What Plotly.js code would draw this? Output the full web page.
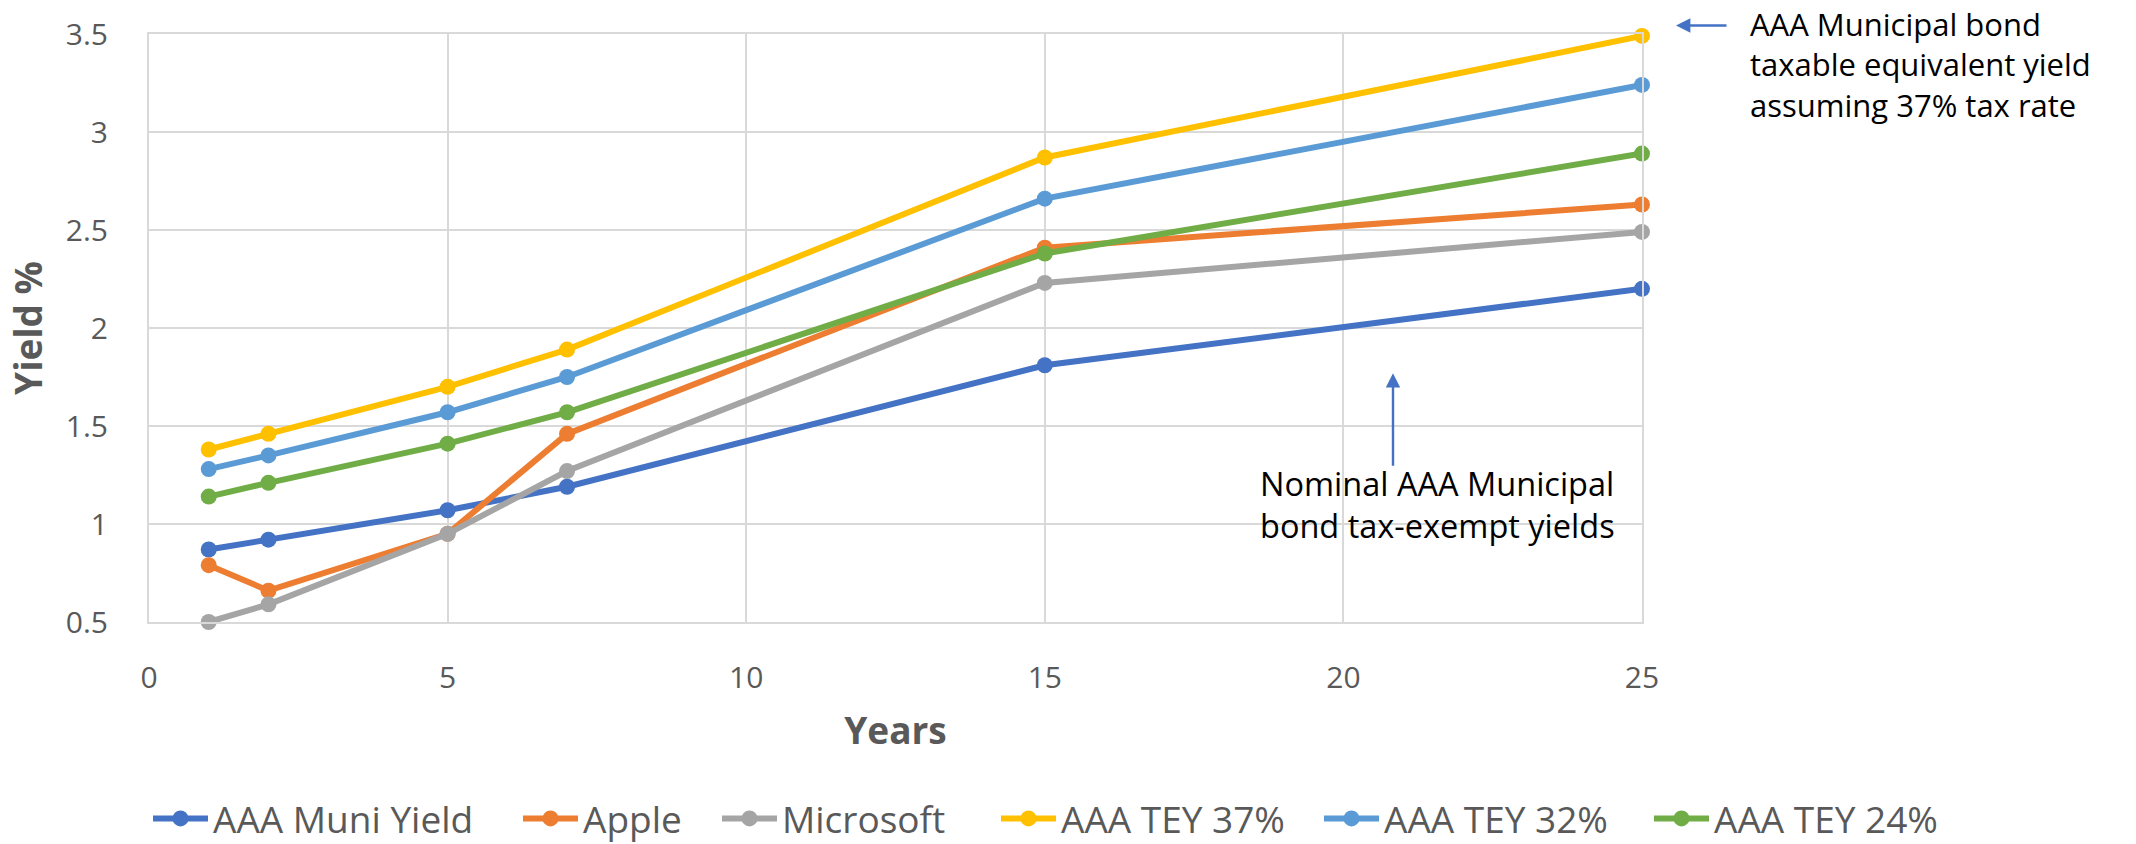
<!DOCTYPE html>
<html>
<head>
<meta charset="utf-8">
<script src="https://cdn.plot.ly/plotly-3.0.1.min.js"></script>
<style>html,body{margin:0;padding:0;background:#fff;}#chart{width:2136px;height:844px;}</style>
</head>
<body>
<div id="chart"></div>
<script>
// Data
const years = [1, 2, 5, 7, 15, 25];
const muniYield = [0.87, 0.92, 1.07, 1.19, 1.81, 2.20];
const apple = [0.79, 0.66, 0.95, 1.46, 2.41, 2.63];
const microsoft = [0.50, 0.59, 0.95, 1.27, 2.23, 2.49];
const tey37 = [1.38, 1.46, 1.70, 1.89, 2.87, 3.49];
const tey32 = [1.28, 1.35, 1.57, 1.75, 2.66, 3.24];
const tey24 = [1.14, 1.21, 1.41, 1.57, 2.38, 2.89];

const seriesNames = ["AAA Muni Yield", "Apple", "Microsoft", "AAA TEY 37%", "AAA TEY 32%", "AAA TEY 24%"];
const seriesValues = [muniYield, apple, microsoft, tey37, tey32, tey24];
const seriesColors = ["#4472C4", "#ED7D31", "#A5A5A5", "#FFC000", "#5B9BD5", "#70AD47"];

const xTickVals = [0, 5, 10, 15, 20, 25];
const xTickText = ["0", "5", "10", "15", "20", "25"];
const yTickVals = [0.5, 1, 1.5, 2, 2.5, 3, 3.5];
const yTickText = ["0.5", "1", "1.5", "2", "2.5", "3", "3.5"];

const xAxisTitle = "Years";
const yAxisTitle = "Yield %";
const noteTop = "AAA Municipal bond<br>taxable equivalent yield<br>assuming 37% tax rate";
const noteBottom = "Nominal AAA Municipal<br>bond tax-exempt yields";

// Layout geometry (pixels)
const W = 2136, H = 844;
const plotL = 149, plotR = 1642, plotT = 33.5, plotB = 622;
const legendStarts = [148, 518, 717, 996, 1319, 1649];
const legendCenterY = 819;

const pxToPaperX = px => (px - plotL) / (plotR - plotL);
const pxToPaperY = py => (plotB - py) / (plotB - plotT);

const traces = seriesNames.map((name, i) => ({
  type: "scatter",
  mode: "lines+markers",
  name: name,
  x: years,
  y: seriesValues[i],
  line: {color: seriesColors[i], width: 6},
  marker: {color: seriesColors[i], size: 16},
  legend: i === 0 ? "legend" : "legend" + (i + 1),
  cliponaxis: false
}));

const legendFont = {family: "Open Sans, sans-serif", size: 37, color: "#595959"};
const noteFont = {family: "Open Sans, sans-serif", size: 32, color: "#000000"};
const arrowStyle = {arrowcolor: "#4472C4", arrowwidth: 2.4, arrowhead: 2, arrowsize: 1.2, standoff: 0};

const layout = {
  width: W,
  height: H,
  margin: {l: plotL, r: W - plotR, t: plotT, b: H - plotB, autoexpand: false},
  paper_bgcolor: "#ffffff",
  plot_bgcolor: "#ffffff",
  font: {family: "Open Sans, sans-serif", color: "#595959"},
  showlegend: true,
  xaxis: {
    range: [0, 25],
    tickvals: xTickVals,
    ticktext: xTickText,
    ticks: "outside",
    ticklen: 28,
    tickcolor: "rgba(0,0,0,0)",
    tickfont: {size: 30, color: "#595959"},
    showgrid: true,
    gridcolor: "#D9D9D9",
    gridwidth: 2,
    zeroline: false,
    showline: true,
    linecolor: "#D9D9D9",
    linewidth: 2,
    mirror: true,
    title: {text: xAxisTitle, font: {size: 37, color: "#595959", weight: "bold"}, standoff: 22}
  },
  yaxis: {
    range: [0.5, 3.5],
    tickvals: yTickVals,
    ticktext: yTickText,
    ticks: "outside",
    ticklen: 33,
    tickcolor: "rgba(0,0,0,0)",
    tickfont: {size: 30, color: "#595959"},
    showgrid: true,
    gridcolor: "#D9D9D9",
    gridwidth: 2,
    zeroline: false,
    showline: true,
    linecolor: "#D9D9D9",
    linewidth: 2,
    mirror: true,
    title: {text: yAxisTitle, font: {size: 37, color: "#595959", weight: "bold"}, standoff: 12}
  },
  annotations: [
    {
      xref: "paper", yref: "paper",
      x: pxToPaperX(1749), y: pxToPaperY(1),
      xanchor: "left", yanchor: "top", align: "left",
      text: noteTop, showarrow: false, borderpad: 0,
      font: Object.assign({}, noteFont, {size: 31})
    },
    Object.assign({
      xref: "paper", yref: "paper",
      x: pxToPaperX(1676), y: pxToPaperY(25),
      text: "", showarrow: true,
      ax: 52, ay: 0
    }, arrowStyle),
    {
      xref: "paper", yref: "paper",
      x: pxToPaperX(1258), y: pxToPaperY(504),
      xanchor: "left", yanchor: "middle", align: "left",
      text: noteBottom, showarrow: false,
      font: Object.assign({}, noteFont, {size: 32.5})
    },
    Object.assign({
      xref: "paper", yref: "paper",
      x: pxToPaperX(1393), y: pxToPaperY(373),
      text: "", showarrow: true,
      ax: 0, ay: 94
    }, arrowStyle)
  ]
};

seriesNames.forEach((name, i) => {
  const key = i === 0 ? "legend" : "legend" + (i + 1);
  layout[key] = {
    orientation: "h",
    x: pxToPaperX(legendStarts[i]),
    xanchor: "left",
    y: pxToPaperY(legendCenterY),
    yanchor: "middle",
    font: legendFont,
    itemwidth: 55,
    bgcolor: "rgba(0,0,0,0)",
    borderwidth: 0
  };
});

Plotly.newPlot("chart", traces, layout, {displayModeBar: false, staticPlot: true});
</script>
</body>
</html>
